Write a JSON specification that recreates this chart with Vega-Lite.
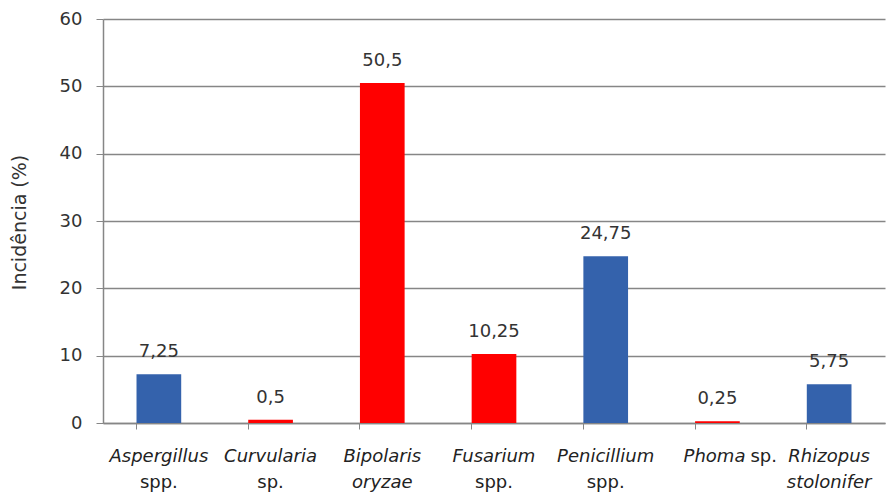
{
  "$schema": "https://vega.github.io/schema/vega-lite/v6.json",
  "width": 782,
  "height": 404,
  "autosize": {"type": "none"},
  "padding": {"left": 103, "top": 19, "right": 2, "bottom": 72},
  "config": {
    "locale": {"number": {"decimal": ",", "thousands": ".", "grouping": [3], "currency": ["R$", ""]}},
    "view": {"stroke": null},
    "font": "DejaVu Sans"
  },
  "data": {
    "values": [
      {"genus": "Aspergillus", "species": "spp.", "value": 7.25, "group": "blue"},
      {"genus": "Curvularia", "species": "sp.", "value": 0.5, "group": "red"},
      {"genus": "Bipolaris", "species": "oryzae", "value": 50.5, "group": "red", "italic2": true},
      {"genus": "Fusarium", "species": "spp.", "value": 10.25, "group": "red"},
      {"genus": "Penicillium", "species": "spp.", "value": 24.75, "group": "blue"},
      {"genus": "Phoma", "species": "sp.", "value": 0.25, "group": "red", "inline": true},
      {"genus": "Rhizopus", "species": "stolonifer", "value": 5.75, "group": "blue", "italic2": true}
    ]
  },
  "encoding": {
    "x": {
      "field": "genus",
      "type": "nominal",
      "sort": null,
      "scale": {"paddingInner": 0.6, "paddingOuter": 0.3},
      "axis": {
        "title": null,
        "labels": false,
        "bandPosition": 0,
        "domainColor": "#868686",
        "tickColor": "#868686",
        "tickSize": 6,
        "domainWidth": 1.5
      }
    }
  },
  "layer": [
    {
      "mark": {"type": "bar"},
      "encoding": {
        "y": {
          "field": "value",
          "type": "quantitative",
          "scale": {"domain": [0, 60]},
          "axis": {
            "title": "Incidência (%)",
            "titleFont": "DejaVu Sans",
            "titleFontSize": 19,
            "titleFontWeight": "normal",
            "titleColor": "#333333",
            "titleX": -84,
            "titleY": 203,
            "titleAngle": -90,
            "titleAlign": "center",
            "titleBaseline": "middle",
            "values": [0, 10, 20, 30, 40, 50, 60],
            "labelFontSize": 18,
            "labelColor": "#333333",
            "labelPadding": 14,
            "tickSize": 7,
            "tickColor": "#868686",
            "domainColor": "#868686",
            "domainWidth": 1.5,
            "gridColor": "#868686",
            "gridWidth": 1.3
          }
        },
        "color": {
          "field": "group",
          "type": "nominal",
          "scale": {"domain": ["blue", "red"], "range": ["#3462AC", "#FF0000"]},
          "legend": null
        }
      }
    },
    {
      "mark": {"type": "text", "baseline": "middle", "dy": -22, "fontSize": 18, "color": "#333333"},
      "encoding": {
        "y": {"field": "value", "type": "quantitative"},
        "text": {"field": "value", "type": "quantitative", "format": "~g"}
      }
    },
    {
      "transform": [{"filter": "!datum.inline"}],
      "mark": {"type": "text", "baseline": "middle", "dy": 34, "fontSize": 18, "fontStyle": "italic", "color": "#222222"},
      "encoding": {
        "y": {"datum": 0, "type": "quantitative"},
        "text": {"field": "genus"}
      }
    },
    {
      "transform": [{"filter": "!datum.inline && !datum.italic2"}],
      "mark": {"type": "text", "baseline": "middle", "dy": 60, "fontSize": 18, "color": "#222222"},
      "encoding": {
        "y": {"datum": 0, "type": "quantitative"},
        "text": {"field": "species"}
      }
    },
    {
      "transform": [{"filter": "datum.italic2"}],
      "mark": {"type": "text", "baseline": "middle", "dy": 60, "fontSize": 18, "fontStyle": "italic", "color": "#222222"},
      "encoding": {
        "y": {"datum": 0, "type": "quantitative"},
        "text": {"field": "species"}
      }
    },
    {
      "transform": [{"filter": "datum.inline"}],
      "mark": {"type": "text", "baseline": "middle", "align": "right", "dx": 28, "dy": 34, "fontSize": 18, "fontStyle": "italic", "color": "#222222"},
      "encoding": {
        "y": {"datum": 0, "type": "quantitative"},
        "text": {"field": "genus"}
      }
    },
    {
      "transform": [{"filter": "datum.inline"}],
      "mark": {"type": "text", "baseline": "middle", "align": "left", "dx": 33, "dy": 34, "fontSize": 18, "color": "#222222"},
      "encoding": {
        "y": {"datum": 0, "type": "quantitative"},
        "text": {"field": "species"}
      }
    }
  ]
}
